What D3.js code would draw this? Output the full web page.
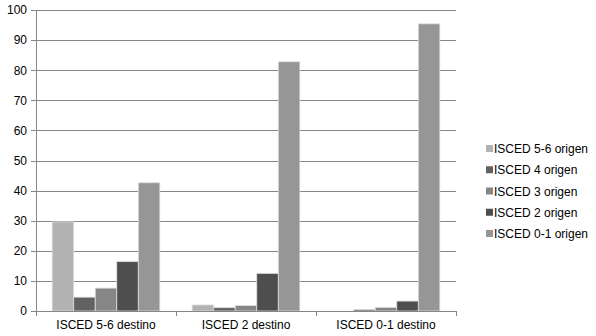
<!DOCTYPE html>
<html lang="en">

<head>
    <script src='https://d3js.org/d3.v7.min.js'></script>
    <style>
        body { margin: 0; background: #fff; }
        text { font-family: "Liberation Sans", Arial, sans-serif; }
    </style>
</head>

<body>
    <div class="chart"></div>

    <script>

        // data
        const categories = ["ISCED 5-6 destino", "ISCED 2 destino", "ISCED 0-1 destino"];
        const seriesNames = ["ISCED 5-6 origen", "ISCED 4 origen", "ISCED 3 origen", "ISCED 2 origen", "ISCED 0-1 origen"];
        const seriesColors = ["#b2b2b2", "#626262", "#868686", "#4e4e4e", "#969696"];
        const s56 = [29.6, 2.0, 0.0];
        const s4 = [4.6, 1.1, 0.5];
        const s3 = [7.6, 1.8, 1.2];
        const s2 = [16.4, 12.5, 3.3];
        const s01 = [42.6, 82.8, 95.4];
        const yTicks = [0, 10, 20, 30, 40, 50, 60, 70, 80, 90, 100];

        const seriesValues = [s56, s4, s3, s2, s01];

        const width = 596;
        const height = 336;
        const plot = { left: 36, right: 456, top: 10, bottom: 311 };

        const svg = d3.select(".chart").append("svg")
            .attr("width", width)
            .attr("height", height);

        // scales
        const x0 = d3.scaleBand()
            .domain(categories)
            .range([plot.left, plot.right])
            .padding(0);

        const x1 = d3.scaleBand()
            .domain(seriesNames)
            .range([0, x0.bandwidth()])
            .paddingInner(0)
            .paddingOuter(0.75);

        const y = d3.scaleLinear()
            .domain([0, 100])
            .range([plot.bottom, plot.top]);

        // gridlines + y axis
        const yAxis = d3.axisLeft(y)
            .tickValues(yTicks)
            .tickSize(-(plot.right - plot.left))
            .tickPadding(9);

        const gy = svg.append("g")
            .attr("transform", "translate(" + plot.left + ",0)")
            .call(yAxis);
        gy.select(".domain").remove();
        gy.selectAll(".tick line")
            .attr("x1", -5)
            .attr("stroke", "#868686")
            .attr("shape-rendering", "crispEdges");
        gy.selectAll(".tick text")
            .attr("fill", "#000")
            .style("font-size", "12px");

        // vertical axis line
        svg.append("line")
            .attr("x1", plot.left).attr("x2", plot.left)
            .attr("y1", plot.top).attr("y2", plot.bottom)
            .attr("stroke", "#868686")
            .attr("shape-rendering", "crispEdges");

        // bars
        const groups = svg.selectAll(".grp")
            .data(categories)
            .enter()
            .append("g")
            .attr("class", "grp")
            .attr("transform", d => "translate(" + x0(d) + ",0)");

        groups.selectAll("rect")
            .data((c, ci) => seriesNames.map((s, si) => ({ s: s, si: si, v: seriesValues[si][ci] })))
            .enter()
            .append("rect")
            .attr("x", d => x1(d.s))
            .attr("y", d => y(d.v))
            .attr("width", x1.bandwidth())
            .attr("height", d => y(0) - y(d.v))
            .attr("fill", d => seriesColors[d.si])
            .attr("stroke", "#dedede")
            .attr("stroke-width", 0.8);

        // x axis
        const xAxis = d3.axisBottom(x0)
            .tickSize(0)
            .tickPadding(9);

        const gx = svg.append("g")
            .attr("transform", "translate(0," + plot.bottom + ")")
            .call(xAxis);
        gx.select(".domain")
            .attr("stroke", "#868686")
            .attr("shape-rendering", "crispEdges");
        gx.selectAll(".tick text")
            .attr("fill", "#000")
            .style("font-size", "12px");

        // category boundary ticks
        const bounds = categories.map(c => x0(c)).concat([plot.right]);
        svg.append("g").selectAll("line")
            .data(bounds)
            .enter()
            .append("line")
            .attr("x1", d => d).attr("x2", d => d)
            .attr("y1", plot.bottom).attr("y2", plot.bottom + 5)
            .attr("stroke", "#868686")
            .attr("shape-rendering", "crispEdges");

        // legend
        const legend = svg.append("g")
            .attr("transform", "translate(486,149)");

        const items = legend.selectAll("g")
            .data(seriesNames)
            .enter()
            .append("g")
            .attr("transform", (d, i) => "translate(0," + (i * 21.25) + ")");

        items.append("rect")
            .attr("x", 0)
            .attr("y", -4)
            .attr("width", 7)
            .attr("height", 7)
            .attr("fill", (d, i) => seriesColors[i]);

        items.append("text")
            .attr("x", 8)
            .attr("y", 0)
            .attr("dy", "0.35em")
            .style("font-size", "12px")
            .attr("fill", "#000")
            .text(d => d);

    </script>
</body>

</html>
